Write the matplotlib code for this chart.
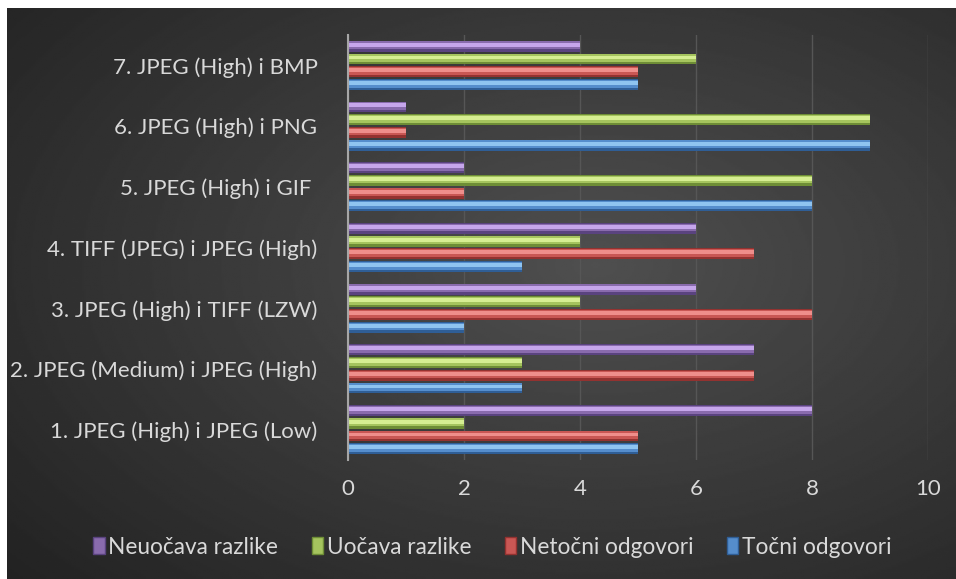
import matplotlib.pyplot as plt
import numpy as np
from matplotlib.patches import Patch

categories = ['1. JPEG (High) i JPEG (Low)', '2. JPEG (Medium) i JPEG (High)',
              '3. JPEG (High) i TIFF (LZW)', '4. TIFF (JPEG) i JPEG (High)',
              '5. JPEG (High) i GIF ', '6. JPEG (High) i PNG', '7. JPEG (High) i BMP']
tocni = [5, 3, 2, 3, 8, 9, 5]
netocni = [5, 7, 8, 7, 2, 1, 5]
uocava = [2, 3, 4, 4, 8, 9, 6]
neuocava = [8, 7, 6, 6, 2, 1, 4]
series_names = ['Točni odgovori', 'Netočni odgovori', 'Uočava razlike', 'Neuočava razlike']
xticks = [0, 2, 4, 6, 8, 10]

plt.rcParams['font.family'] = ['Lato', 'DejaVu Sans']

fig = plt.figure(figsize=(9.56, 5.79), dpi=100, facecolor='white')

# dark gradient background
bg = fig.add_axes([7/956, 0, 949/956, 571/579])
yy, xx = np.mgrid[0:1:300j, 0:1:500j]
r = np.sqrt(((xx - 0.62) / 0.85) ** 2 + ((yy - 0.45) / 0.85) ** 2)
img = 0.31 - 0.18 * np.clip(r, 0, 1)
bg.imshow(img, cmap='gray', vmin=0, vmax=1, aspect='auto', extent=[0, 1, 0, 1])
bg.axis('off')

ax = fig.add_axes([348/956, 1 - 460/579, 580/956, 425/579])
ax.patch.set_alpha(0)

colors = ['#558dcc', '#c95754', '#a5c45e', '#896bad']
lights = ['#8fc4f0', '#ef8e8b', '#d6ee92', '#c6a6eb']
darks = ['#2f5e96', '#933230', '#6e8d36', '#5a437f']
data = [tocni, netocni, uocava, neuocava]
y = np.arange(len(categories))
h = 0.21
bh = h * 0.85
offsets = [-1.5 * h, -0.5 * h, 0.5 * h, 1.5 * h]
for vals, off, c, lc, dc in zip(data, offsets, colors, lights, darks):
    ax.barh(y + off, vals, height=bh, color=dc, zorder=3)
    ax.barh(y + off + bh * 0.08, vals, height=bh * 0.72, color=c, zorder=3)
    ax.barh(y + off + bh * 0.14, vals, height=bh * 0.36, color=lc, zorder=3)

ax.set_xlim(0, 10)
ax.set_ylim(-0.5, len(categories) - 0.5)
ax.set_xticks(xticks)
ax.set_yticks(y)
ax.set_yticklabels(categories)
ax.tick_params(colors='#d9d9d9', labelsize=16, length=0)
ax.tick_params(axis='y', pad=22)
ax.tick_params(axis='x', pad=14)
ax.grid(axis='x', color='#565656', lw=1, zorder=0)
for s in ['top', 'right', 'bottom']:
    ax.spines[s].set_visible(False)
ax.spines['left'].set_color('#a6a6a6')
ax.spines['left'].set_linewidth(1.5)
ax.spines['left'].set_zorder(4)

handles = [Patch(facecolor=colors[i], edgecolor=darks[i]) for i in [3, 2, 1, 0]]
labels = [series_names[i] for i in [3, 2, 1, 0]]
fig.legend(handles, labels, loc='center', bbox_to_anchor=(0.515, 1 - 547/579), ncol=4,
           frameon=False, fontsize=16.3, labelcolor='#d9d9d9', handlelength=0.5,
           handleheight=0.75, handletextpad=0.15, columnspacing=1.5)

fig.savefig('out.png', dpi=100, facecolor='white')
